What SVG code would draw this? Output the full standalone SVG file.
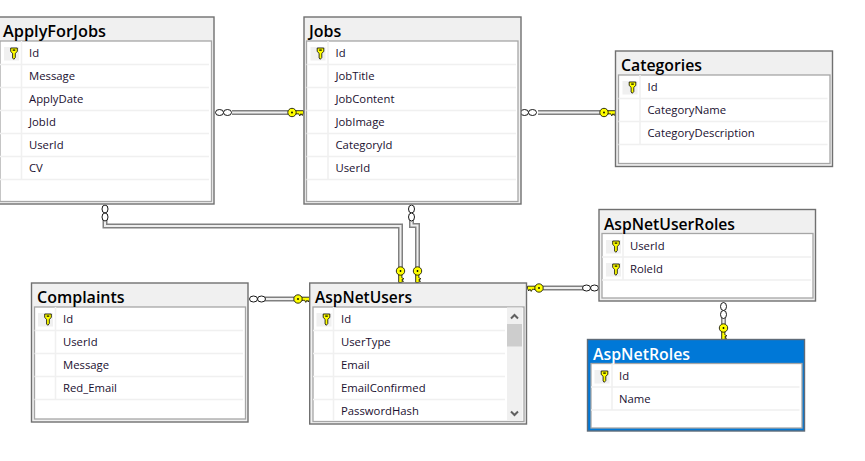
<svg xmlns="http://www.w3.org/2000/svg" width="865" height="461" viewBox="0 0 865 461">
<style>
text{font-family:"Open Sans","Noto Sans","Liberation Sans",sans-serif;fill:#1a1030}
.t{font-size:16px;font-weight:600;fill:#000}
.tw{font-size:16px;font-weight:600;fill:#fff}
.f{font-size:11.3px}
.o{fill:#f0f0f0;stroke:#707070;stroke-width:1.4}
.ob{fill:#0078d7;stroke:#5f6b78;stroke-width:1.4}
.i{fill:#fff;stroke:#a6a6a6;stroke-width:1.3}
.r{stroke:#f0f0f0;stroke-width:1.5;fill:none}
.a{fill:none;stroke:#808080;stroke-width:5}
.b{fill:none;stroke:#eeeeee;stroke-width:2}
.e{fill:#fff;stroke:#000;stroke-width:.9}
.kf{fill:#ffff00;stroke:#000;stroke-width:.8}
.s{fill:none;stroke:#606060;stroke-width:2}
</style>
<defs>
<g id="ck"><path class="kf" d="M3 -1.800H11.500V.4L10.300 3L9 1.200L7.800 3.400L6.500 1.200L5.200 1.400H3Z"/><circle class="kf" r="4.200"/><circle r=".9" fill="#000"/></g>
<g id="sk"><rect x="-10" y="-6" width="15" height="13.500" fill="#f0f0f0"/><path class="kf" d="M-3.300 -5H3.300V-1.500L1.300 .3V4.500L-.2 6.300L-1.400 5V.3L-3.300 -1.500Z" stroke-width=".9"/><rect x="-1.300" y="-3.500" width="2.600" height="1.200" fill="#000"/></g>
<g id="eh"><ellipse class="e" cx="-4" rx="4" ry="3"/><ellipse class="e" cx="4" rx="4" ry="3"/></g>
<g id="ev"><ellipse class="e" cy="-4" rx="3" ry="4"/><ellipse class="e" cy="4" rx="3" ry="4"/></g>
</defs>
<rect width="865" height="461" fill="#fff"/>

<g id="connectors">
<path class="a" d="M232 112.500H288M538 112.500H600M265 299H294M543 288H583M723.500 318V324"/>
<path class="b" d="M232 112.500H288M538 112.500H600M265 299H294M543 288H583M723.500 318V324"/>
<path class="a" d="M105 220V226H400.500V267"/><path class="b" d="M105 220V226H400.500V267"/>
<path class="a" d="M411.500 220V225.500H417.500V267"/><path class="b" d="M411.500 220V225.500H417.500V267"/>
<use href="#eh" x="223.500" y="112.500"/><use href="#ck" transform="translate(292 112.500)"/>
<use href="#eh" x="528.500" y="112.500"/><use href="#ck" transform="translate(604 112.500)"/>
<use href="#ev" x="105" y="213"/><use href="#ck" transform="matrix(0 1 1 0 400.500 271)"/>
<use href="#ev" x="411.500" y="213"/><use href="#ck" transform="matrix(0 1 1 0 417.500 271)"/>
<use href="#eh" x="257.500" y="299"/><use href="#ck" transform="translate(298 299)"/>
<use href="#ck" transform="matrix(-1 0 0 1 539 288)"/><use href="#eh" x="590.500" y="288"/>
<use href="#ev" x="723.500" y="310.500"/><use href="#ck" transform="matrix(0 1 1 0 723.500 328)"/>
</g>

<g id="ApplyForJobs">
<rect class="o" x="-3" y="17" width="217" height="187"/><rect class="i" x="0" y="41" width="211.500" height="160.500"/>
<path class="r" d="M0 64.500H209M0 87.500H209M0 110.500H209M0 133.500H209M0 156.500H209M0 179.500H209M21.500 41V179.500"/>
<text class="t" x="3" y="36.500" textLength="103" lengthAdjust="spacingAndGlyphs">ApplyForJobs</text>
<use href="#sk" x="14" y="53"/>
<g class="f"><text x="29" y="57">Id</text><text x="29" y="80">Message</text><text x="29" y="103">ApplyDate</text><text x="29" y="126">JobId</text><text x="29" y="149">UserId</text><text x="29" y="172">CV</text></g>
</g>

<g id="Jobs">
<rect class="o" x="304" y="17" width="217" height="187"/><rect class="i" x="306.500" y="41" width="211.500" height="160.500"/>
<path class="r" d="M306.500 64.500H516M306.500 87.500H516M306.500 110.500H516M306.500 133.500H516M306.500 156.500H516M306.500 179.500H516M328 41V179.500"/>
<text class="t" x="309" y="36.500">Jobs</text>
<use href="#sk" x="320.500" y="53"/>
<g class="f"><text x="335.500" y="57">Id</text><text x="335.500" y="80">JobTitle</text><text x="335.500" y="103">JobContent</text><text x="335.500" y="126">JobImage</text><text x="335.500" y="149">CategoryId</text><text x="335.500" y="172">UserId</text></g>
</g>

<g id="Categories">
<rect class="o" x="615.500" y="51" width="217" height="115.500"/><rect class="i" x="618.500" y="75" width="211.500" height="88.500"/>
<path class="r" d="M618.500 98.500H827.500M618.500 121.500H827.500M618.500 144.500H827.500M640 75V144.500"/>
<text class="t" x="621" y="70.500" textLength="81" lengthAdjust="spacingAndGlyphs">Categories</text>
<use href="#sk" x="632.500" y="87"/>
<g class="f"><text x="647.500" y="91">Id</text><text x="647.500" y="114">CategoryName</text><text x="647.500" y="137">CategoryDescription</text></g>
</g>

<g id="AspNetUserRoles">
<rect class="o" x="599" y="209.500" width="216.500" height="91.500"/><rect class="i" x="602" y="233.500" width="211" height="64.500"/>
<path class="r" d="M602 257H811M602 280H811M623 233.500V280"/>
<text class="t" x="604" y="229.500" textLength="131" lengthAdjust="spacingAndGlyphs">AspNetUserRoles</text>
<use href="#sk" x="616" y="246"/><use href="#sk" x="616" y="269"/>
<g class="f"><text x="630" y="250">UserId</text><text x="630" y="273">RoleId</text></g>
</g>

<g id="AspNetRoles">
<rect class="ob" x="587.500" y="339.500" width="217" height="91.500"/><rect class="i" x="591" y="363.500" width="211" height="64.500"/>
<path class="r" d="M591 387H799.500M591 410H799.500M612 363.500V410"/>
<text class="tw" x="593" y="359.500" textLength="97" lengthAdjust="spacingAndGlyphs">AspNetRoles</text>
<use href="#sk" x="604.500" y="376"/>
<g class="f"><text x="619" y="380">Id</text><text x="619" y="403">Name</text></g>
</g>

<g id="AspNetUsers">
<rect class="o" x="309.700" y="283" width="216.800" height="141"/><rect class="i" x="313" y="307" width="211" height="114.500"/>
<path class="r" d="M313 330.500H505M313 353.500H505M313 376.500H505M313 399.500H505M333.500 307V421"/>
<rect x="507" y="307.500" width="15.500" height="113.500" fill="#f0f0f0"/>
<rect x="507" y="324" width="15" height="22.500" fill="#cdcdcd"/>
<path class="s" d="M511 318.500L514.500 315L518 318.500M511 411.500L514.500 415L518 411.500"/>
<text class="t" x="315" y="303" textLength="97" lengthAdjust="spacingAndGlyphs">AspNetUsers</text>
<use href="#sk" x="326.500" y="319"/>
<g class="f"><text x="341" y="323">Id</text><text x="341" y="346">UserType</text><text x="341" y="369">Email</text><text x="341" y="392">EmailConfirmed</text><text x="341" y="415">PasswordHash</text></g>
</g>

<g id="Complaints">
<rect class="o" x="31.500" y="283" width="216.500" height="139"/><rect class="i" x="34.500" y="307" width="211" height="112"/>
<path class="r" d="M34.500 330.500H243M34.500 353.500H243M34.500 376.500H243M34.500 399.500H243M55.500 307V399.500"/>
<text class="t" x="37" y="303">Complaints</text>
<use href="#sk" x="48" y="319"/>
<g class="f"><text x="63" y="323">Id</text><text x="63" y="346">UserId</text><text x="63" y="369">Message</text><text x="63" y="392">Red_Email</text></g>
</g>
</svg>
